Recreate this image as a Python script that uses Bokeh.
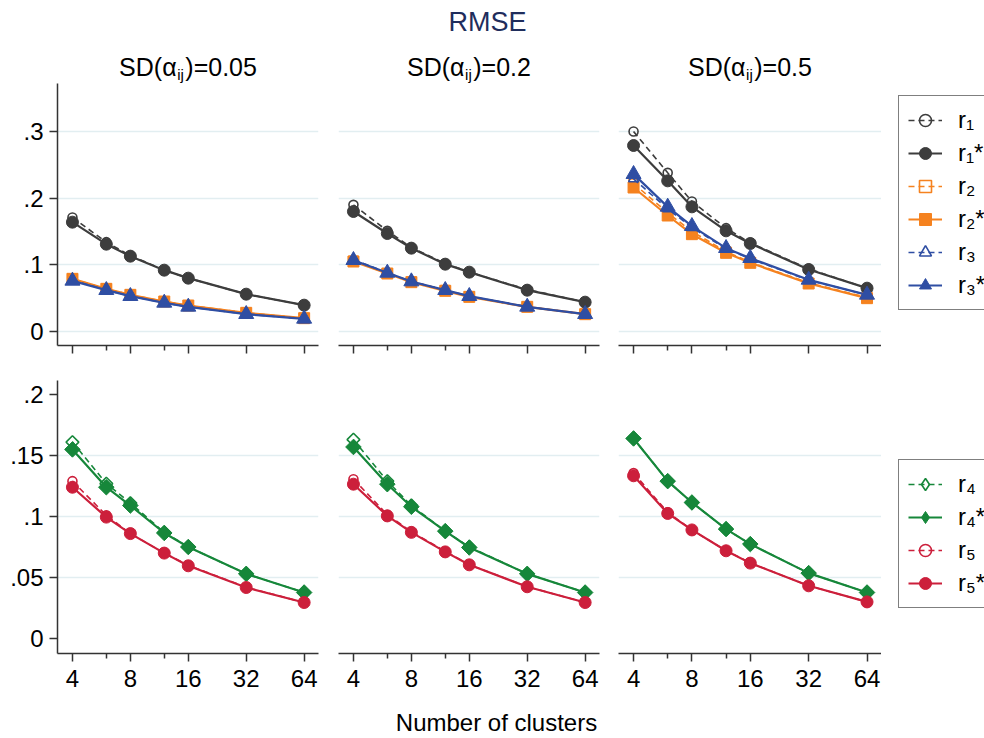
import numpy as np
from bokeh.plotting import figure
from bokeh.layouts import column, row
from bokeh.models import Range1d, FixedTicker, Label, Legend, LegendItem, ColumnDataSource
from bokeh.embed import file_html
from bokeh.resources import INLINE

FONT = "Liberation Sans"

# ---------------- data ----------------
clusters = [4, 6, 8, 12, 16, 32, 64]
x_tick_values = [4, 8, 16, 32, 64]
x_minor_values = [6, 12]
x_tick_labels = ["4", "8", "16", "32", "64"]
sd_values = ["0.05", "0.2", "0.5"]

top_y_ticks = [0, 0.1, 0.2, 0.3]
top_y_labels = ["0", ".1", ".2", ".3"]
bot_y_ticks = [0, 0.05, 0.1, 0.15, 0.2]
bot_y_labels = ["0", ".05", ".1", ".15", ".2"]
bot_grid_ticks = [0.05, 0.1, 0.15]

# SD = 0.05
r1_sd005 = [0.171, 0.134, 0.114, 0.092, 0.080, 0.056, 0.0395]
r1s_sd005 = [0.164, 0.131, 0.113, 0.092, 0.080, 0.056, 0.0395]
r2_sd005 = [0.079, 0.064, 0.055, 0.045, 0.039, 0.028, 0.020]
r2s_sd005 = [0.079, 0.064, 0.055, 0.045, 0.039, 0.028, 0.020]
r3_sd005 = [0.077, 0.062, 0.053, 0.043, 0.037, 0.026, 0.019]
r3s_sd005 = [0.076, 0.062, 0.053, 0.043, 0.037, 0.026, 0.019]
r4_sd005 = [0.161, 0.127, 0.111, 0.087, 0.075, 0.053, 0.0377]
r4s_sd005 = [0.155, 0.124, 0.109, 0.0865, 0.075, 0.053, 0.0377]
r5_sd005 = [0.129, 0.101, 0.086, 0.070, 0.060, 0.042, 0.0295]
r5s_sd005 = [0.124, 0.0995, 0.086, 0.070, 0.0596, 0.0418, 0.0295]

# SD = 0.2
r1_sd02 = [0.190, 0.151, 0.126, 0.102, 0.089, 0.063, 0.044]
r1s_sd02 = [0.180, 0.147, 0.125, 0.101, 0.089, 0.062, 0.044]
r2_sd02 = [0.106, 0.087, 0.075, 0.062, 0.052, 0.037, 0.026]
r2s_sd02 = [0.105, 0.087, 0.074, 0.061, 0.052, 0.037, 0.026]
r3_sd02 = [0.108, 0.088, 0.075, 0.062, 0.053, 0.037, 0.026]
r3s_sd02 = [0.107, 0.088, 0.075, 0.062, 0.053, 0.037, 0.026]
r4_sd02 = [0.163, 0.129, 0.109, 0.088, 0.075, 0.053, 0.0377]
r4s_sd02 = [0.157, 0.1265, 0.108, 0.088, 0.0746, 0.053, 0.0377]
r5_sd02 = [0.1306, 0.1015, 0.0875, 0.0715, 0.0605, 0.0425, 0.0295]
r5s_sd02 = [0.1265, 0.1005, 0.087, 0.071, 0.0604, 0.0424, 0.0295]

# SD = 0.5
r1_sd05 = [0.300, 0.238, 0.195, 0.155, 0.133, 0.094, 0.065]
r1s_sd05 = [0.279, 0.226, 0.187, 0.151, 0.132, 0.093, 0.065]
r2_sd05 = [0.222, 0.178, 0.150, 0.120, 0.104, 0.073, 0.051]
r2s_sd05 = [0.216, 0.174, 0.146, 0.118, 0.103, 0.072, 0.050]
r3_sd05 = [0.229, 0.184, 0.156, 0.124, 0.109, 0.077, 0.055]
r3s_sd05 = [0.236, 0.187, 0.158, 0.125, 0.110, 0.0775, 0.055]
r4_sd05 = [0.164, 0.129, 0.1115, 0.0897, 0.0774, 0.0536, 0.0377]
r4s_sd05 = [0.164, 0.129, 0.1115, 0.0897, 0.0774, 0.0536, 0.0377]
r5_sd05 = [0.1356, 0.1035, 0.089, 0.072, 0.062, 0.0432, 0.030]
r5s_sd05 = [0.1334, 0.1025, 0.089, 0.0719, 0.0618, 0.0432, 0.030]

legend_labels = {"r1": "r\u2081", "r1s": "r\u2081*", "r2": "r\u2082", "r2s": "r\u2082*",
                 "r3": "r\u2083", "r3s": "r\u2083*", "r4": "r\u2084", "r4s": "r\u2084*",
                 "r5": "r\u2085", "r5s": "r\u2085*"}

top_series = [
    {"r1": r1_sd005, "r1s": r1s_sd005, "r2": r2_sd005, "r2s": r2s_sd005, "r3": r3_sd005, "r3s": r3s_sd005},
    {"r1": r1_sd02, "r1s": r1s_sd02, "r2": r2_sd02, "r2s": r2s_sd02, "r3": r3_sd02, "r3s": r3s_sd02},
    {"r1": r1_sd05, "r1s": r1s_sd05, "r2": r2_sd05, "r2s": r2s_sd05, "r3": r3_sd05, "r3s": r3s_sd05},
]
bot_series = [
    {"r4": r4_sd005, "r4s": r4s_sd005, "r5": r5_sd005, "r5s": r5s_sd005},
    {"r4": r4_sd02, "r4s": r4s_sd02, "r5": r5_sd02, "r5s": r5s_sd02},
    {"r4": r4_sd05, "r4s": r4s_sd05, "r5": r5_sd05, "r5s": r5s_sd05},
]
top_keys = ["r1", "r1s", "r2", "r2s", "r3", "r3s"]
bot_keys = ["r4", "r4s", "r5", "r5s"]

# ---------------- styles ----------------
GREY = "#3d3d3d"
ORANGE = "#f5821f"
BLUE = "#2f4ea3"
GREEN = "#16873a"
RED = "#cc1f3b"
AXIS = "#333333"
GRID = "#e2eef1"

STYLE = {
    "r1": dict(color=GREY, dash="6 4", marker="circle", size=9, hollow=True, angle=0),
    "r1s": dict(color=GREY, dash="solid", marker="circle", size=12, hollow=False, angle=0),
    "r2": dict(color=ORANGE, dash="6 4", marker="square", size=9, hollow=True, angle=0),
    "r2s": dict(color=ORANGE, dash="solid", marker="square", size=11, hollow=False, angle=0),
    "r3": dict(color=BLUE, dash="6 4", marker="triangle", size=10, hollow=True, angle=0),
    "r3s": dict(color=BLUE, dash="solid", marker="triangle", size=15, hollow=False, angle=0),
    "r4": dict(color=GREEN, dash="6 4", marker="square", size=9, hollow=True, angle=np.pi / 4),
    "r4s": dict(color=GREEN, dash="solid", marker="square", size=11, hollow=False, angle=np.pi / 4),
    "r5": dict(color=RED, dash="6 4", marker="circle", size=9, hollow=True, angle=0),
    "r5s": dict(color=RED, dash="solid", marker="circle", size=12, hollow=False, angle=0),
}
# the legend ignores marker angles, so its diamonds use Bokeh's own diamond marker
LEGEND_MARKER = {"r4": dict(marker="diamond", size=15, angle=0),
                 "r4s": dict(marker="diamond", size=18, angle=0)}

PAGE_W = 984
COL_LEFT = [57, 10, 10]
COL_FW = [261, 261, 263]
COL_RIGHT = [10, 9, 0]
LEG_W = PAGE_W - 618 - 263
ROW_FH = [262, 273]
ROW_BOTTOM = [35, 50]
HEADER_H = 83
FOOTER_H = 35
X_RANGE = (3.345, 76.0)
TOP_YR = (-0.021, 0.372)
BOT_YR = (-0.0123, 0.2115)


def draw(p, src, st):
    lw = 1.6 if st["hollow"] else 2.2
    lr = p.line("x", "y", source=src, line_color=st["color"], line_width=lw, line_dash=st["dash"])
    sr = p.scatter("x", "y", source=src, marker=st["marker"], size=st["size"], angle=st["angle"],
                   line_color=st["color"], line_width=1.6 if st["hollow"] else 1,
                   fill_color=None if st["hollow"] else st["color"])
    return [lr, sr]


def make_panel(col, r, sources, keys, yr, yticks, ylabels, gridticks):
    left, right, fw = COL_LEFT[col], COL_RIGHT[col], COL_FW[col]
    fh, bottom = ROW_FH[r], ROW_BOTTOM[r]
    p = figure(width=left + fw + right, height=fh + bottom, x_axis_type="log",
               x_range=Range1d(*X_RANGE), y_range=Range1d(*yr),
               min_border_left=left, min_border_right=right,
               min_border_top=0, min_border_bottom=bottom,
               toolbar_location=None, output_backend="svg", title=None)
    p.outline_line_color = None
    p.background_fill_color = "white"
    p.xgrid.visible = False
    p.ygrid.ticker = FixedTicker(ticks=gridticks)
    p.ygrid.grid_line_color = GRID
    p.ygrid.grid_line_width = 1.5

    xa = p.xaxis[0]
    xa.ticker = FixedTicker(ticks=x_tick_values, minor_ticks=x_minor_values)
    xa.major_label_overrides = {v: l for v, l in zip(x_tick_values, x_tick_labels)}
    xa.axis_line_color = AXIS
    xa.axis_line_width = 1.5
    xa.major_tick_line_color = AXIS
    xa.major_tick_line_width = 1.5
    xa.major_tick_in = 0
    xa.major_tick_out = 8
    xa.minor_tick_line_color = AXIS
    xa.minor_tick_line_width = 1.5
    xa.minor_tick_in = 0
    xa.minor_tick_out = 5
    xa.major_label_text_font = FONT
    xa.major_label_text_color = "black"
    xa.major_label_standoff = 8
    if r == 0:
        xa.major_label_text_font_size = "0px"
        xa.major_label_text_color = None
    else:
        xa.major_label_text_font_size = "24px"

    ya = p.yaxis[0]
    if col == 0:
        ya.ticker = FixedTicker(ticks=yticks)
        ya.major_label_overrides = {v: l for v, l in zip(yticks, ylabels)}
        ya.axis_line_color = AXIS
        ya.axis_line_width = 1.5
        ya.major_tick_line_color = AXIS
        ya.major_tick_line_width = 1.5
        ya.major_tick_in = 0
        ya.major_tick_out = 8
        ya.minor_tick_line_color = None
        ya.major_label_text_font = FONT
        ya.major_label_text_font_size = "24px"
        ya.major_label_text_color = "black"
        ya.major_label_standoff = 6
    else:
        ya.visible = False

    for k in keys:
        draw(p, sources[k], STYLE[k])
    return p


def make_legend_fig(r, sources, keys, loc):
    fh, bottom = ROW_FH[r], ROW_BOTTOM[r]
    # ranges far from the data, so the series themselves stay outside this frame
    lf = figure(width=LEG_W, height=fh + bottom, x_range=Range1d(-2, -1), y_range=Range1d(-2, -1),
                min_border_left=0, min_border_right=0, min_border_top=0, min_border_bottom=bottom,
                x_axis_location=None, y_axis_location=None,
                toolbar_location=None, output_backend="svg", title=None)
    lf.grid.visible = False
    lf.outline_line_color = None
    items = []
    for k in keys:
        st = dict(STYLE[k])
        st.update(LEGEND_MARKER.get(k, {}))
        rs = draw(lf, sources[k], st)
        items.append(LegendItem(label=legend_labels[k], renderers=rs))
    leg = Legend(items=items, location=loc, margin=0, padding=9, spacing=3,
                 glyph_width=34, glyph_height=30, label_height=30, label_standoff=16,
                 label_text_font=FONT, label_text_font_size="24px", label_text_color="black",
                 border_line_color="black", border_line_width=1.5,
                 background_fill_color="white", background_fill_alpha=1)
    lf.add_layout(leg)
    return lf


# ---------------- header ----------------
header = figure(width=PAGE_W, height=HEADER_H, x_range=Range1d(0, PAGE_W), y_range=Range1d(0, HEADER_H),
                min_border=0, x_axis_location=None, y_axis_location=None,
                toolbar_location=None, output_backend="svg", title=None)
header.grid.visible = False
header.outline_line_color = None
header.add_layout(Label(x=487, y=HEADER_H - 21, text="RMSE", text_align="center", text_baseline="middle",
                        text_font=FONT, text_font_size="27px", text_color="#1f2d5c"))

CW = {"S": 0.667, "D": 0.722, "(": 0.333, "\u03b1": 0.58, ")": 0.333, "=": 0.584,
      "0": 0.556, "5": 0.556, "2": 0.556, ".": 0.278}
MAIN_FS = 25
SUB_FS = 15
centers = [187.5, 468.5, 749.5]
for c, sd in zip(centers, sd_values):
    part1 = "SD(\u03b1"
    part3 = ")=" + sd
    w1 = sum(CW[ch] for ch in part1) * MAIN_FS
    w2 = 0.444 * SUB_FS + 2
    w3 = sum(CW[ch] for ch in part3) * MAIN_FS
    x0 = c - (w1 + w2 + w3) / 2
    header.add_layout(Label(x=x0, y=HEADER_H - 66, text=part1, text_align="left", text_baseline="middle",
                            text_font=FONT, text_font_size=f"{MAIN_FS}px", text_color="black"))
    header.add_layout(Label(x=x0 + w1 + 0.5, y=HEADER_H - 74, text="ij", text_align="left",
                            text_baseline="middle", text_font=FONT, text_font_size=f"{SUB_FS}px",
                            text_color="black"))
    header.add_layout(Label(x=x0 + w1 + w2, y=HEADER_H - 66, text=part3, text_align="left",
                            text_baseline="middle", text_font=FONT, text_font_size=f"{MAIN_FS}px",
                            text_color="black"))

# ---------------- footer ----------------
footer = figure(width=PAGE_W, height=FOOTER_H, x_range=Range1d(0, PAGE_W), y_range=Range1d(0, FOOTER_H),
                min_border=0, x_axis_location=None, y_axis_location=None,
                toolbar_location=None, output_backend="svg", title=None)
footer.grid.visible = False
footer.outline_line_color = None
footer.add_layout(Label(x=496, y=FOOTER_H - 19, text="Number of clusters", text_align="center",
                        text_baseline="middle", text_font=FONT, text_font_size="24px",
                        text_color="black"))

# ---------------- panels ----------------
top_sources = [{k: ColumnDataSource(dict(x=clusters, y=s[k])) for k in top_keys} for s in top_series]
bot_sources = [{k: ColumnDataSource(dict(x=clusters, y=s[k])) for k in bot_keys} for s in bot_series]

top_row = [make_panel(c, 0, top_sources[c], top_keys, TOP_YR, top_y_ticks, top_y_labels, top_y_ticks)
           for c in range(3)]
bot_row = [make_panel(c, 1, bot_sources[c], bot_keys, BOT_YR, bot_y_ticks, bot_y_labels, bot_grid_ticks)
           for c in range(3)]
leg_top = make_legend_fig(0, top_sources[2], top_keys, (17, 35))
leg_bot = make_legend_fig(1, bot_sources[2], bot_keys, (17, 45))

layout = column(header, row(*top_row, leg_top), row(*bot_row, leg_bot), footer)

open("out.html", "w").write(file_html(layout, INLINE))
